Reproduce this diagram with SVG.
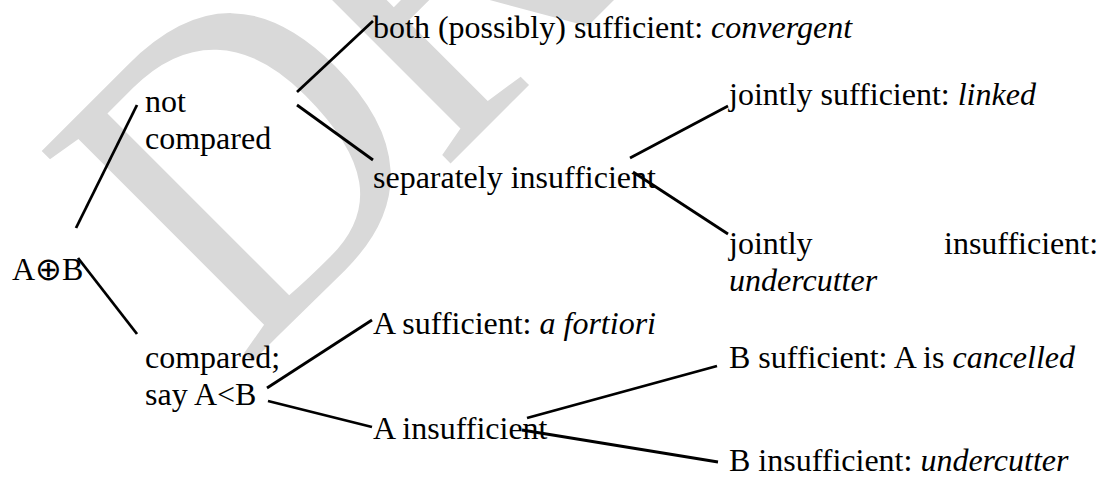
<svg xmlns="http://www.w3.org/2000/svg" width="1105" height="481" viewBox="0 0 1105 481" font-family="'Liberation Serif', serif">
<style>
text{font-family:'Liberation Serif',serif;font-size:32px;fill:#000}
.it{font-style:italic}
.wm{font-size:455px;fill:#d9d9d9;letter-spacing:-20px}
#connectors line{stroke:#000;stroke-width:2.8;stroke-linecap:butt}
</style>
<rect width="1105" height="481" fill="#fff"/>
<text class="wm" transform="translate(244,370) rotate(-45) scale(0.9,1)">DRAFT</text>
<g id="connectors">
<line x1="76" y1="228" x2="137" y2="105"/>
<line x1="78" y1="258" x2="137" y2="334"/>
<line x1="297" y1="92" x2="373" y2="21"/>
<line x1="297" y1="105" x2="373" y2="160"/>
<line x1="630" y1="158" x2="728" y2="106"/>
<line x1="633" y1="172" x2="728" y2="234"/>
<line x1="267" y1="388" x2="372" y2="320"/>
<line x1="268" y1="401" x2="372" y2="427"/>
<line x1="527" y1="418" x2="717" y2="366"/>
<line x1="522" y1="430" x2="718" y2="462"/>
</g>
<g id="n-root"><text x="12" y="280">A⊕B</text></g>
<g id="n-notcompared"><text x="145" y="112">not</text><text x="145" y="149">compared</text></g>
<g id="n-compared"><text x="145" y="368">compared;</text><text x="145" y="405">say A&lt;B</text></g>
<g id="n-convergent"><text x="373" y="38">both (possibly) sufficient: <tspan class="it">convergent</tspan></text></g>
<g id="n-separately"><text x="373" y="188">separately insufficient</text></g>
<g id="n-afortiori"><text x="373" y="334">A sufficient: <tspan class="it">a fortiori</tspan></text></g>
<g id="n-ainsufficient"><text x="373" y="439">A insufficient</text></g>
<g id="n-linked"><text x="729" y="105">jointly sufficient: <tspan class="it">linked</tspan></text></g>
<g id="n-undercutter1"><text x="729" y="254">jointly<tspan x="944">insufficient:</tspan></text><text class="it" x="729" y="291">undercutter</text></g>
<g id="n-cancelled"><text x="729" y="368">B sufficient: A is <tspan class="it">cancelled</tspan></text></g>
<g id="n-undercutter2"><text x="729" y="471">B insufficient: <tspan class="it">undercutter</tspan></text></g>
</svg>
